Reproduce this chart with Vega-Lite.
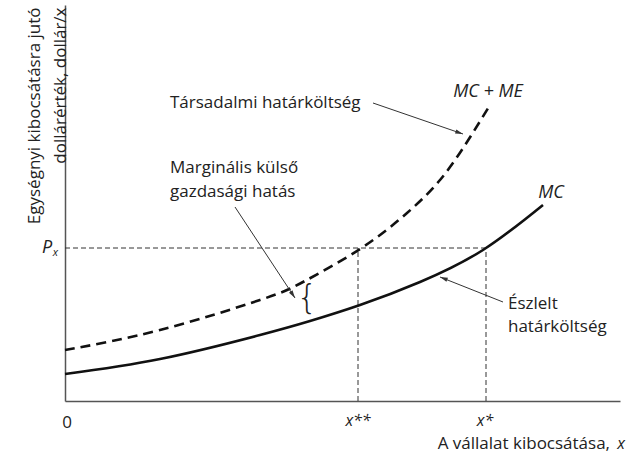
{
  "$schema": "https://vega.github.io/schema/vega-lite/v6.json",
  "width": 555,
  "height": 396,
  "padding": {"left": 65, "top": 5, "right": 7, "bottom": 60},
  "autosize": {"type": "none"},
  "background": "white",
  "config": {"view": {"stroke": null}, "font": "Open Sans"},
  "datasets": {
    "mc": [
      {"x": 0, "y": 27}, {"x": 95, "y": 42}, {"x": 195, "y": 66}, {"x": 245, "y": 80},
      {"x": 295, "y": 96}, {"x": 355, "y": 119}, {"x": 418, "y": 151}, {"x": 478, "y": 196}
    ],
    "mcme": [
      {"x": 0, "y": 51}, {"x": 95, "y": 71}, {"x": 195, "y": 101}, {"x": 238, "y": 119},
      {"x": 295, "y": 152}, {"x": 342, "y": 188}, {"x": 375, "y": 221}, {"x": 402, "y": 259}, {"x": 425, "y": 296}
    ],
    "guides": [
      {"x": 0, "x2": 421, "y": 153, "y2": 153},
      {"x": 293, "x2": 293, "y": 0, "y2": 153},
      {"x": 421, "x2": 421, "y": 0, "y2": 153}
    ],
    "arrows": [
      {"x": 308, "x2": 398, "y": 298, "y2": 267},
      {"x": 170, "x2": 230, "y": 194, "y2": 103},
      {"x": 438, "x2": 375, "y": 99, "y2": 124}
    ],
    "plain": [
      {"x": 105, "y": 298, "text": "Társadalmi határköltség"},
      {"x": 105, "y": 233, "text": "Marginális külső"},
      {"x": 105, "y": 209, "text": "gazdasági hatás"},
      {"x": 443, "y": 97, "text": "Észlelt"},
      {"x": 443, "y": 74, "text": "határköltség"}
    ],
    "italic": [
      {"x": 423, "y": 309, "text": "MC + ME"},
      {"x": 486, "y": 208, "text": "MC"},
      {"x": -18, "y": 153, "text": "P"}
    ],
    "ticklabels": [
      {"x": 293, "y": -20, "text": "x**"},
      {"x": 420, "y": -20, "text": "x*"},
      {"x": 556, "y": -43, "text": "x"}
    ]
  },
  "layer": [
    {
      "data": {"name": "guides"},
      "mark": {"type": "rule", "strokeDash": [5, 3], "color": "#333", "strokeWidth": 1},
      "encoding": {
        "x": {"field": "x", "type": "quantitative", "scale": {"domain": [0, 555], "nice": false, "zero": false},
          "axis": {"domainColor": "#555", "domainWidth": 1.5, "ticks": false, "labels": false, "grid": false, "title": null}},
        "x2": {"field": "x2"},
        "y": {"field": "y", "type": "quantitative", "scale": {"domain": [0, 396], "nice": false, "zero": false},
          "axis": {"domainColor": "#555", "domainWidth": 1.5, "ticks": false, "labels": false, "grid": false,
            "title": ["Egységnyi kibocsátásra jutó", "dollárérték, dollár/x"],
            "titleFont": "Open Sans", "titleFontSize": 17, "titleFontWeight": "normal", "titleColor": "#222",
            "titleAngle": -90, "titleAlign": "right", "titleBaseline": "middle", "titleLineHeight": 26,
            "titleX": -31, "titleY": 2}},
        "y2": {"field": "y2"}
      }
    },
    {
      "data": {"name": "mc"},
      "mark": {"type": "line", "color": "#111", "strokeWidth": 2.6, "interpolate": "natural"},
      "encoding": {"x": {"field": "x", "type": "quantitative"}, "y": {"field": "y", "type": "quantitative"}}
    },
    {
      "data": {"name": "mcme"},
      "mark": {"type": "line", "color": "#111", "strokeWidth": 2.6, "strokeDash": [10, 6], "interpolate": "natural"},
      "encoding": {"x": {"field": "x", "type": "quantitative"}, "y": {"field": "y", "type": "quantitative"}}
    },
    {
      "data": {"name": "arrows"},
      "mark": {"type": "rule", "color": "#333", "strokeWidth": 1},
      "encoding": {"x": {"field": "x", "type": "quantitative"}, "x2": {"field": "x2"}, "y": {"field": "y", "type": "quantitative"}, "y2": {"field": "y2"}}
    },
    {
      "data": {"values": [{"x": 398, "y": 267}]},
      "mark": {"type": "point", "shape": "M0,0L-2,-0.55L-2,0.55Z", "filled": true, "color": "#333", "size": 60, "angle": 19, "opacity": 1},
      "encoding": {"x": {"field": "x", "type": "quantitative"}, "y": {"field": "y", "type": "quantitative"}}
    },
    {
      "data": {"values": [{"x": 230, "y": 103}]},
      "mark": {"type": "point", "shape": "M0,0L-2,-0.55L-2,0.55Z", "filled": true, "color": "#333", "size": 60, "angle": 56.6, "opacity": 1},
      "encoding": {"x": {"field": "x", "type": "quantitative"}, "y": {"field": "y", "type": "quantitative"}}
    },
    {
      "data": {"values": [{"x": 375, "y": 124}]},
      "mark": {"type": "point", "shape": "M0,0L-2,-0.55L-2,0.55Z", "filled": true, "color": "#333", "size": 60, "angle": 201.6, "opacity": 1},
      "encoding": {"x": {"field": "x", "type": "quantitative"}, "y": {"field": "y", "type": "quantitative"}}
    },
    {
      "data": {"values": [{"x": 242, "y": 102, "text": "{"}]},
      "mark": {"type": "text", "font": "DejaVu Sans", "fontSize": 33, "fontWeight": 200, "color": "#222", "align": "center", "baseline": "middle"},
      "encoding": {"x": {"field": "x", "type": "quantitative"}, "y": {"field": "y", "type": "quantitative"}, "text": {"field": "text"}}
    },
    {
      "data": {"name": "plain"},
      "mark": {"type": "text", "fontSize": 17, "color": "#222", "align": "left", "baseline": "middle"},
      "encoding": {"x": {"field": "x", "type": "quantitative"}, "y": {"field": "y", "type": "quantitative"}, "text": {"field": "text"}}
    },
    {
      "data": {"name": "italic"},
      "mark": {"type": "text", "fontSize": 18, "fontStyle": "italic", "color": "#222", "align": "center", "baseline": "middle"},
      "encoding": {"x": {"field": "x", "type": "quantitative"}, "y": {"field": "y", "type": "quantitative"}, "text": {"field": "text"}}
    },
    {
      "data": {"name": "ticklabels"},
      "mark": {"type": "text", "fontSize": 16, "fontStyle": "italic", "color": "#222", "align": "center", "baseline": "middle"},
      "encoding": {"x": {"field": "x", "type": "quantitative"}, "y": {"field": "y", "type": "quantitative"}, "text": {"field": "text"}}
    },
    {
      "data": {"values": [{"x": -9.5, "y": 148, "text": "x"}]},
      "mark": {"type": "text", "fontSize": 11, "fontStyle": "italic", "color": "#222", "align": "center", "baseline": "middle"},
      "encoding": {"x": {"field": "x", "type": "quantitative"}, "y": {"field": "y", "type": "quantitative"}, "text": {"field": "text"}}
    },
    {
      "data": {"values": [{"x": 2, "y": -22, "text": "0"}]},
      "mark": {"type": "text", "fontSize": 17, "color": "#222", "align": "center", "baseline": "middle"},
      "encoding": {"x": {"field": "x", "type": "quantitative"}, "y": {"field": "y", "type": "quantitative"}, "text": {"field": "text"}}
    },
    {
      "data": {"values": [{"x": 545, "y": -43, "text": "A vállalat kibocsátása,"}]},
      "mark": {"type": "text", "fontSize": 17, "color": "#222", "align": "right", "baseline": "middle"},
      "encoding": {"x": {"field": "x", "type": "quantitative"}, "y": {"field": "y", "type": "quantitative"}, "text": {"field": "text"}}
    }
  ]
}
